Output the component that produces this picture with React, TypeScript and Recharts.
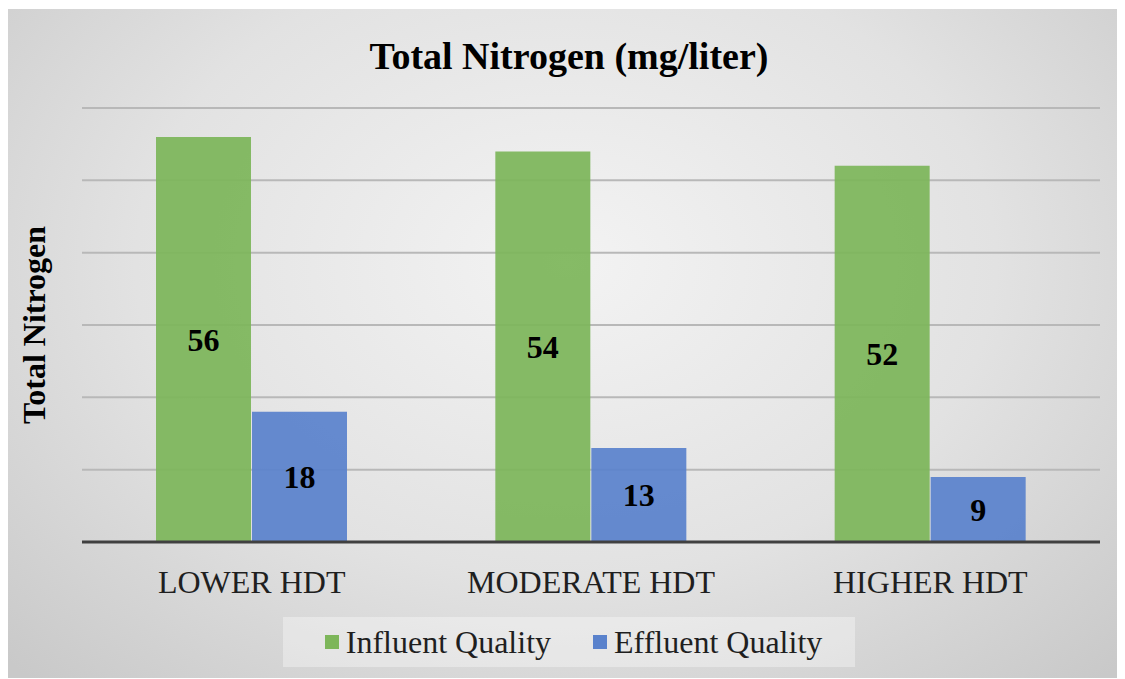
import React from "react";
import { BarChart, Bar, XAxis, YAxis, CartesianGrid, Legend, LabelList } from "recharts";

const categories = ["LOWER HDT", "MODERATE HDT", "HIGHER HDT"];
const influent = [56, 54, 52];
const effluent = [18, 13, 9];
const yTicks = [0, 10, 20, 30, 40, 50, 60];

const data = categories.map((c, i) => ({ name: c, influent: influent[i], effluent: effluent[i] }));

const FONT = '"Liberation Serif", serif';
const GREEN = "#7db65a";
const BLUE = "#5a82cc";

const LegendBox = () => (
  <div
    style={{
      width: 572,
      height: 50,
      boxSizing: "border-box",
      paddingLeft: 9,
      background: "rgba(255,255,255,0.35)",
      display: "flex",
      alignItems: "center",
      justifyContent: "center",
      fontFamily: FONT,
      fontSize: 32,
      color: "#1f1f1f",
    }}
  >
    <span style={{ display: "flex", alignItems: "center", marginRight: 42 }}>
      <span style={{ width: 14, height: 14, background: GREEN, marginRight: 7, display: "inline-block" }} />
      Influent Quality
    </span>
    <span style={{ display: "flex", alignItems: "center" }}>
      <span style={{ width: 14, height: 14, background: BLUE, marginRight: 7, display: "inline-block" }} />
      Effluent Quality
    </span>
  </div>
);

export default function App() {
  return (
    <div
      style={{
        position: "relative",
        width: 1118,
        height: 669,
        marginLeft: -1,
        marginTop: 1,
        background: "radial-gradient(ellipse 70% 85% at 50% 38%, #f3f3f3 0%, #e2e2e2 55%, #c9c9c9 100%)",
        fontFamily: FONT,
      }}
    >
      <div
        style={{
          position: "absolute",
          top: 25,
          left: 3,
          width: "100%",
          textAlign: "center",
          fontSize: 38,
          fontWeight: "bold",
          color: "#000",
          fontFamily: FONT,
          zIndex: 2,
        }}
      >
        Total Nitrogen (mg/liter)
      </div>
      <BarChart
        width={1118}
        height={669}
        data={data}
        margin={{ top: 99, right: 25, bottom: 11, left: 15 }}
        barGap={1}
        barSize={95}
      >
        <CartesianGrid vertical={false} stroke="#b8b8b8" strokeWidth={2} />
        <YAxis
          domain={[0, 60]}
          ticks={yTicks}
          width={60}
          tick={{ fontSize: 0, fill: "transparent" }}
          tickFormatter={() => ""}
          tickLine={false}
          axisLine={false}
          label={{
            value: "Total Nitrogen",
            angle: -90,
            position: "insideLeft",
            offset: 12,
            style: { textAnchor: "middle", fontFamily: FONT, fontSize: 32, fontWeight: "bold", fill: "#000" },
          }}
        />
        <XAxis
          dataKey="name"
          height={75}
          tickLine={false}
          tickMargin={22}
          axisLine={{ stroke: "#404040", strokeWidth: 3 }}
          tick={{ fontFamily: FONT, fontSize: 32, fill: "#1f1f1f" }}
        />
        <Legend
          verticalAlign="bottom"
          content={<LegendBox />}
          wrapperStyle={{ left: 276, width: 572, height: 50 }}
        />
        <Bar dataKey="influent" name="Influent Quality" fill={GREEN} fillOpacity={0.93} isAnimationActive={false}>
          <LabelList dataKey="influent" position="center" style={{ fontFamily: FONT, fontSize: 32, fontWeight: "bold", fill: "#000" }} />
        </Bar>
        <Bar dataKey="effluent" name="Effluent Quality" fill={BLUE} fillOpacity={0.93} isAnimationActive={false}>
          <LabelList dataKey="effluent" position="center" style={{ fontFamily: FONT, fontSize: 32, fontWeight: "bold", fill: "#000" }} />
        </Bar>
      </BarChart>
    </div>
  );
}
